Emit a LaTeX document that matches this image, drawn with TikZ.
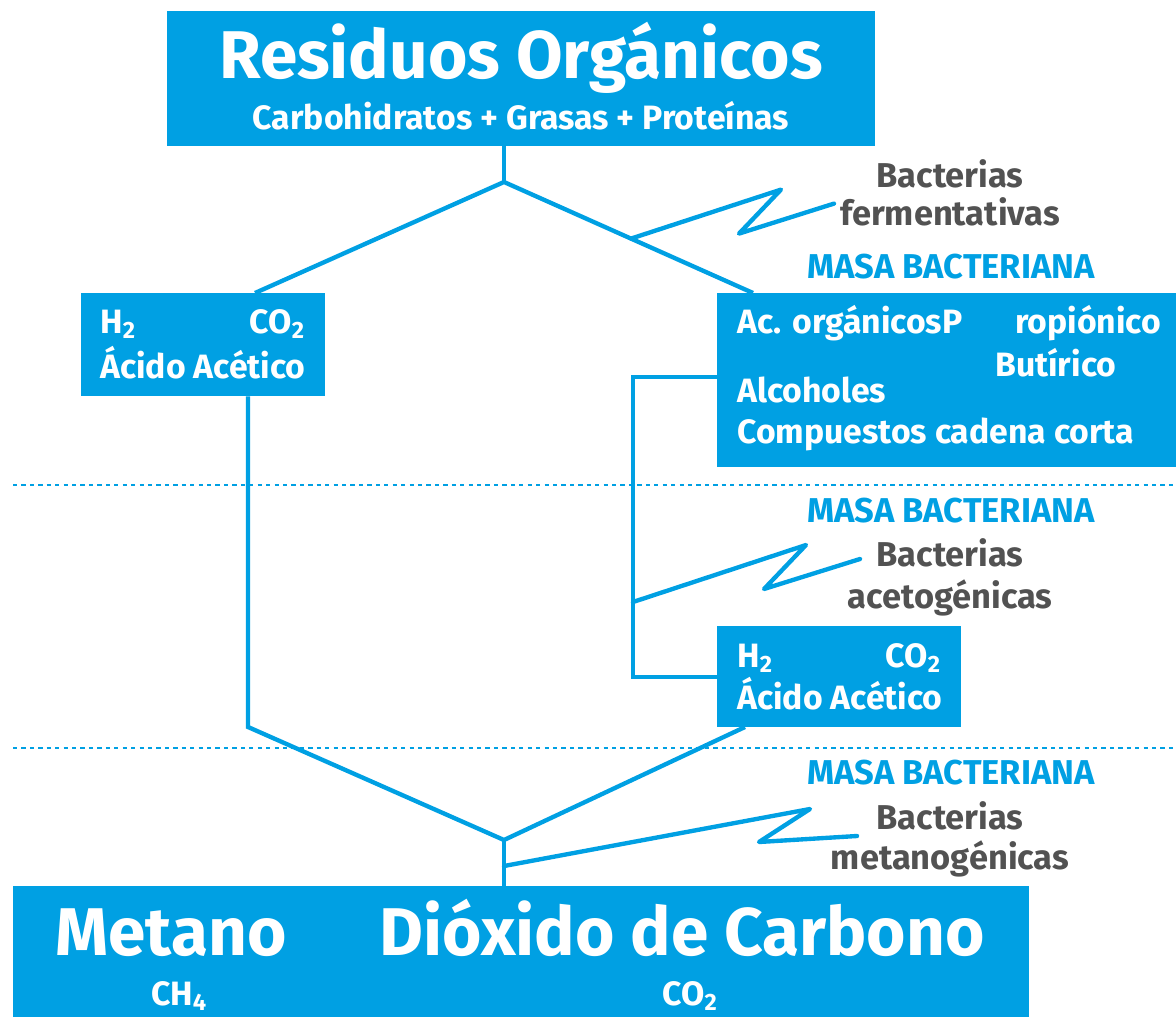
\documentclass[tikz,border=0pt]{standalone}
\usepackage{fontspec}
\setmainfont{Fira Sans}
\usetikzlibrary{positioning}
\definecolor{cian}{RGB}{0,160,227}
\definecolor{grisbac}{RGB}{82,82,82}
\tikzset{
  caja/.style={fill=cian, inner sep=0pt},
  linea/.style={draw=cian, line width=3.1pt},
  rayo/.style={draw=cian, line width=3.1pt, line cap=round, line join=round},
  corte/.style={draw=cian, line width=1.7pt, dash pattern=on 3pt off 3pt},
  blanco/.style={text=white, inner sep=0pt, font=\bfseries\fontsize{24}{28}\selectfont},
  grande/.style={text=white, inner sep=0pt, anchor=base, font=\bfseries\fontsize{48}{52}\selectfont},
  masa/.style={text=cian, inner sep=0pt, anchor=base, font=\bfseries\fontsize{24.5}{28}\selectfont},
  bacteria/.style={text=grisbac, inner sep=0pt, anchor=base, font=\bfseries\fontsize{24.5}{28}\selectfont},
}
\newcommand{\sub}[1]{\textsubscript{#1}}
\begin{document}
\begin{tikzpicture}[x=0.025cm, y=-0.025cm]
  \useasboundingbox (0,0) rectangle (1176,1017);

  % cajas
  \node[caja, minimum width=17.7cm, minimum height=3.375cm] (residuos) at (521,78.5) {};
  \node[caja, minimum width=6.1cm, minimum height=2.575cm] (izq) at (203,344.5) {};
  \node[caja, minimum width=11.475cm, minimum height=4.35cm] (acidos) at (946.5,380) {};
  \node[caja, minimum width=6.1cm, minimum height=2.525cm] (acetico) at (839,676.5) {};
  \node[caja, minimum width=25.4cm, minimum height=3.275cm] (productos) at (521,951.5) {};

  % textos de las cajas
  \node[grande] (titulo) at (521,79) {Residuos Orgánicos};
  \node[blanco, anchor=base] (subtitulo) at (521,130) {Carbohidratos + Grasas + Proteínas};

  \node[blanco, anchor=base west] (h2izq) at (100,333) {H\sub{2}};
  \node[blanco, anchor=base east] (co2izq) at (305,333) {CO\sub{2}};
  \node[blanco, anchor=base west] (acizq) at (100,378) {Ácido Acético};

  \node[blanco, anchor=base west] (organicos) at (737,333) {Ac. orgánicosP};
  \node[blanco, anchor=base west] (propionico) at (1015,333) {ropiónico};
  \node[blanco, anchor=base west] (butirico) at (995,376) {Butírico};
  \node[blanco, anchor=base west] (alcoholes) at (737,402) {Alcoholes};
  \node[blanco, anchor=base west] (compuestos) at (737,443) {Compuestos cadena corta};

  \node[blanco, anchor=base west] (h2der) at (737,667) {H\sub{2}};
  \node[blanco, anchor=base east] (co2der) at (941,667) {CO\sub{2}};
  \node[blanco, anchor=base west] (acder) at (737,709) {Ácido Acético};

  \node[grande] (metano) at (171,955) {Metano};
  \node[grande] (dioxido) at (682,955) {Dióxido de Carbono};
  \node[blanco, anchor=base] (ch4) at (179,1005) {CH\sub{4}};
  \node[blanco, anchor=base] (co2fin) at (690,1005) {CO\sub{2}};

  % etiquetas de bacterias
  \node[bacteria] (ferm1) at (950,188) {Bacterias};
  \node[bacteria] (ferm2) at (950,226) {fermentativas};
  \node[masa] (masa1) at (951,279) {MASA BACTERIANA};
  \node[masa] (masa2) at (951,522) {MASA BACTERIANA};
  \node[bacteria] (aceto1) at (950,566) {Bacterias};
  \node[bacteria] (aceto2) at (950,608) {acetogénicas};
  \node[masa] (masa3) at (951,784) {MASA BACTERIANA};
  \node[bacteria] (meta1) at (950,829) {Bacterias};
  \node[bacteria] (meta2) at (950,869) {metanogénicas};

  % lineas de corte
  \draw[corte] (13,485) -- (1176,485);
  \draw[corte] (13,748) -- (1176,748);

  % conexiones
  \coordinate (div) at (504,182);
  \coordinate (entIzq) at (255,293);
  \coordinate (entDer) at (753,293);
  \draw[linea] (div |- residuos.south) -- (div);
  \draw[linea] (entIzq) -- (div) -- (entDer);

  \coordinate (codoIzq) at (248,727);
  \coordinate (salidaAc) at (745,727);
  \coordinate (union) at (504,840);
  \draw[linea] (izq.south -| codoIzq) -- (codoIzq) -- (union) -- (salidaAc);
  \draw[linea] (union) -- (union |- productos.north);

  \coordinate (codoSup) at (633,377);
  \coordinate (codoInf) at (633,677);
  \draw[linea] (acidos.west |- codoSup) -- (codoSup) -- (codoInf) -- (acetico.west |- codoInf);

  % rayos
  \path (div) -- (entDer) coordinate[pos=0.51] (rayo1);
  \coordinate (rayo2) at (633,602);
  \coordinate (rayo3) at (504,866);
  \draw[rayo] (rayo1) -- ++(150,-49) -- ++(-42,44) -- ++(95,-30);
  \draw[rayo] (rayo2) -- ++(173,-57) -- ++(-42,44) -- ++(96,-30);
  \draw[rayo] (rayo3) -- ++(306,-57) -- ++(-51,33) -- ++(98,-6);
\end{tikzpicture}
\end{document}
